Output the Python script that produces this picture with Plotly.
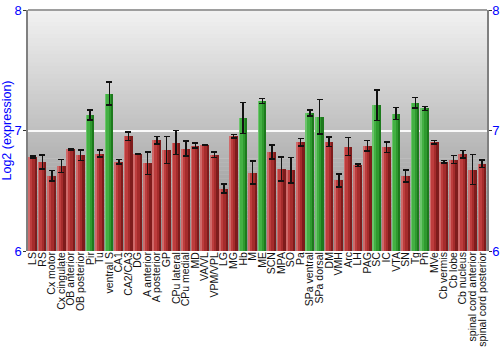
import plotly.graph_objects as go

regions = ["LS", "RS", "Cx motor", "Cx cingulate", "OB anterior", "OB posterior", "Pir", "Tu",
           "ventral S", "CA1", "CA2/CA3", "DG", "A anterior", "A posterior", "GP", "CPu lateral",
           "CPu medial", "MD", "VA/VL", "VPM/VPL", "LG", "MG", "Hb", "M", "ME", "SCN", "MPA", "SO",
           "Pa", "SPa ventral", "SPa dorsal", "DM", "VMH", "Arc", "LH", "PAG", "SC", "IC", "VTA",
           "SN", "Tg", "Pn", "MVe", "Cb vermis", "Cb lobe", "Cb nucleus", "spinal cord anterior",
           "spinal cord posterior"]
expression = [6.78, 6.737, 6.626, 6.704, 6.845, 6.795, 7.130, 6.809,
              7.307, 6.740, 6.953, 6.803, 6.729, 6.920, 6.837, 6.900,
              6.850, 6.875, 6.881, 6.800, 6.518, 6.953, 7.105, 6.651, 7.244, 6.823, 6.681, 6.670,
              6.903, 7.144, 7.114, 6.906, 6.587, 6.867, 6.712, 6.875, 7.210, 6.861, 7.141,
              6.623, 7.230, 7.183, 6.903, 6.740, 6.759, 6.803, 6.676,
              6.723]
error = [0.01, 0.058, 0.044, 0.054, 0.006, 0.042, 0.042, 0.03,
         0.094, 0.02, 0.035, 0.003, 0.094, 0.032, 0.112, 0.098,
         0.062, 0.022, 0.003, 0.022, 0.036, 0.014, 0.129, 0.097, 0.021, 0.058, 0.10, 0.105,
         0.032, 0.025, 0.143, 0.04, 0.054, 0.074, 0.011, 0.044, 0.127, 0.044, 0.05,
         0.05, 0.043, 0.017, 0.014, 0.011, 0.033, 0.03, 0.125,
         0.032]
highlighted = ["Pir", "ventral S", "Hb", "ME", "SPa ventral", "SPa dorsal", "SC", "VTA", "Tg", "Pn"]

y_min, y_max = 6, 8
x = list(range(len(regions)))
is_green = [r in highlighted for r in regions]

palette = {
    True: ["#1d7a1d", "#2f9a2f", "#43b043", "#6cc46c"],
    False: ["#7e1c1c", "#a52c2c", "#bd3d3d", "#cf6a6a"],
}
layers = [(-0.43, 0.86), (-0.43, 0.62), (-0.36, 0.30), (-0.43, 0.07)]

fig = go.Figure()
for i, (off, w) in enumerate(layers):
    fig.add_trace(go.Bar(
        x=x, y=[v - y_min for v in expression], base=y_min,
        marker=dict(color=[palette[g][i] for g in is_green], line=dict(width=0)),
        width=w, offset=off, showlegend=False, hoverinfo="skip",
    ))
fig.add_trace(go.Bar(
    x=x, y=[v - y_min for v in expression], base=y_min,
    marker=dict(color="rgba(0,0,0,0)", line=dict(width=0)),
    width=0.86, offset=-0.43, showlegend=False,
    error_y=dict(type="data", array=error, color="#111111", thickness=1.5, width=3),
))
fig.add_trace(go.Scatter(x=[x[0]], y=[y_min], yaxis="y2", mode="markers",
                         marker=dict(opacity=0), showlegend=False, hoverinfo="skip"))

# background vertical gradient
n = 60
top = (242, 242, 242)
bot = (140, 140, 140)
shapes = []
for k in range(n):
    t = (k + 0.5) / n
    c = tuple(int(round(bot[j] + (top[j] - bot[j]) * t)) for j in range(3))
    shapes.append(dict(type="rect", xref="paper", yref="paper", x0=0, x1=1,
                       y0=k / n, y1=(k + 1) / n + 0.002, layer="below",
                       fillcolor="rgb(%d,%d,%d)" % c, line=dict(width=0)))
shapes.append(dict(type="line", xref="paper", yref="paper", x0=0, x1=1, y0=1, y1=1,
                   line=dict(color="#808080", width=1.5), layer="above"))

tickfont = dict(family="Liberation Sans, Arial", size=13, color="#0000ff")
fig.update_layout(
    width=500, height=350,
    margin=dict(l=28, r=13, t=10, b=99, autoexpand=False),
    paper_bgcolor="white", plot_bgcolor="white",
    barmode="overlay", bargap=0,
    shapes=shapes,
    xaxis=dict(tickmode="array", tickvals=x, ticktext=regions, tickangle=-90,
               tickfont=dict(family="Liberation Sans, Arial", size=10.5, color="#111111"),
               range=[-0.5, len(regions) - 0.5], showgrid=False, zeroline=False,
               ticks="", showline=False, automargin=False, ticklabelstandoff=-2),
    yaxis=dict(range=[y_min, y_max], dtick=1, tickfont=tickfont, ticks="outside",
               ticklen=3, tickcolor="#333333", showline=True, linecolor="#808080",
               linewidth=1.5, showgrid=True, gridcolor="rgba(255,255,255,0.9)", gridwidth=2,
               zeroline=False, automargin=False, ticklabelstandoff=-1,
               title=dict(text="Log2 (expression)", standoff=2,
                          font=dict(family="Liberation Sans, Arial", size=12.5, color="#0000ff"))),
    yaxis2=dict(range=[y_min, y_max], dtick=1, overlaying="y", side="right", tickfont=tickfont,
                ticks="outside", ticklen=3, tickcolor="#333333", showline=True,
                linecolor="#808080", linewidth=1.5, showgrid=False, zeroline=False,
                automargin=False, ticklabelstandoff=-2),
)
fig.write_html("out.html")
